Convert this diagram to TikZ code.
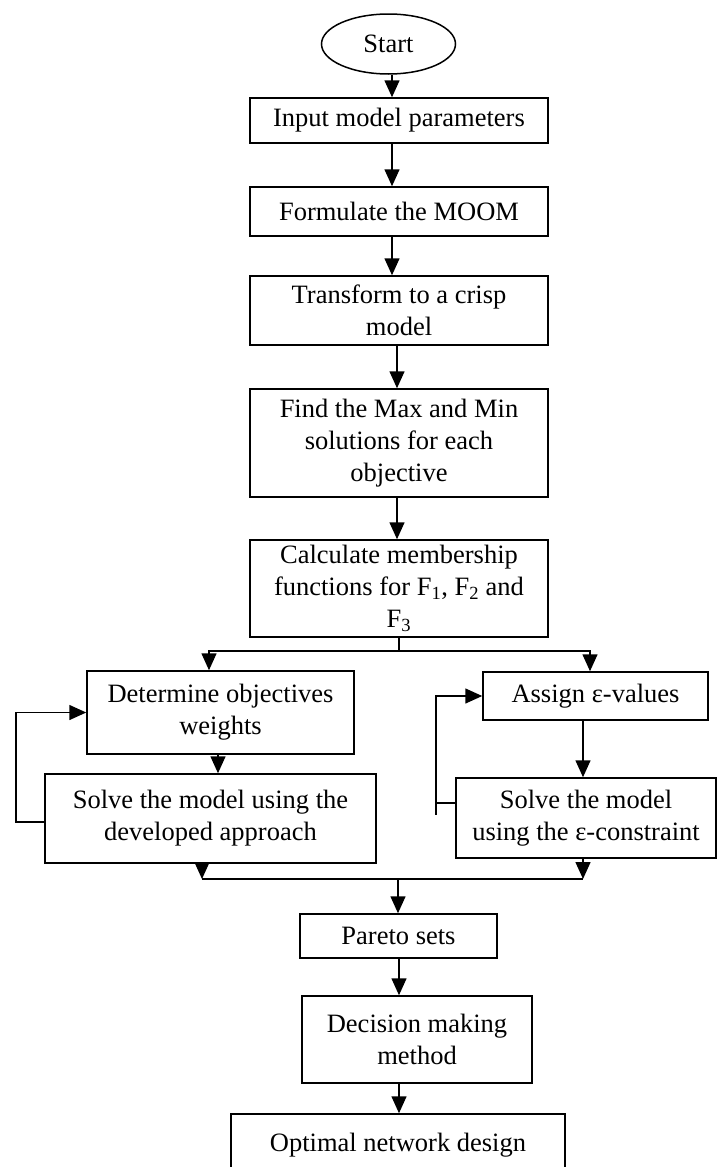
\documentclass[tikz,border=0pt]{standalone}
\usepackage{fontspec}
\setmainfont{Liberation Serif}
\usetikzlibrary{arrows.meta,shapes.geometric}
\begin{document}
\begin{tikzpicture}[x=1pt,y=-1pt,
  txt/.style={font=\fontsize{26.5}{32}\selectfont},
  box/.style={txt,draw,line width=1.5pt,inner sep=0pt,align=center},
  oval/.style={txt,draw,ellipse,line width=1.5pt,inner sep=0pt},
  link/.style={line width=1.5pt},
  arr/.style={line width=1.5pt,-{Triangle[width=15pt,length=17pt]}}]
\useasboundingbox (0,0) rectangle (721,1167);
\clip (0,0) rectangle (721,1167);

% main column
\node[oval,minimum width=134pt,minimum height=60pt] (start) at (388.5,44) {Start};
\node[box,minimum width=298pt,minimum height=45pt] (input) at (399,120.5) {Input model parameters};
\node[box,minimum width=298pt,minimum height=49pt] (formulate) at (399,211.5) {Formulate the MOOM};
\node[box,minimum width=298pt,minimum height=69pt] (transform) at (399,310.5) {Transform to a crisp\\model};
\node[box,minimum width=298pt,minimum height=108pt] (find) at (399,443) {Find the Max and Min\\solutions for each\\objective};
\node[box,minimum width=298pt,minimum height=97pt] (calc) at (399,588.5) {Calculate membership\\functions for F\textsubscript{1}, F\textsubscript{2} and\\F\textsubscript{3}};

% two branches
\node[box,minimum width=267pt,minimum height=83pt] (det) at (220.5,712.5) {Determine objectives\\weights};
\node[box,minimum width=331pt,minimum height=89pt] (solveL) at (210.5,818.5) {Solve the model using the\\developed approach};
\node[box,minimum width=225pt,minimum height=48pt] (assign) at (595.5,696) {Assign ε-values};
\node[box,minimum width=260pt,minimum height=80pt] (solveR) at (586,818) {Solve the model\\using the ε-constraint};

% lower column
\node[box,minimum width=197pt,minimum height=44pt] (pareto) at (398.5,936) {Pareto sets};
\node[box,minimum width=230pt,minimum height=87pt] (decision) at (417,1039.5) {Decision making\\method};
\node[box,minimum width=334pt,minimum height=62pt] (optimal) at (398,1145) {Optimal network design};

% routing points
\coordinate (topx) at (392,0);
\coordinate (midx) at (397,0);
\coordinate (split) at (399,651);
\coordinate (splitL) at (209,651);
\coordinate (splitR) at (590,651);
\coordinate (fbL) at (16,822);
\coordinate (fbR) at (436,803);
\coordinate (mergeL) at (202,879);
\coordinate (mergeR) at (583,879);
\coordinate (merge) at (398,879);

% sequential arrows
\draw[arr] (start.south -| topx) -- (input.north -| topx);
\draw[arr] (input.south -| topx) -- (formulate.north -| topx);
\draw[arr] (formulate.south -| topx) -- (transform.north -| topx);
\draw[arr] (transform.south -| midx) -- (find.north -| midx);
\draw[arr] (find.south -| midx) -- (calc.north -| midx);

% split into the two approaches
\draw[link] (calc.south -| split) -- (split);
\draw[arr] (split) -| (det.north -| splitL);
\draw[arr] (split) -| (assign.north -| splitR);

% left branch with feedback loop
\draw[arr] (det.south -| 218,0) -- (solveL.north -| 218,0);
\draw[arr] (solveL.west |- fbL) -- (fbL) |- (det.west);

% right branch with feedback loop
\draw[arr] (assign.south -| 583,0) -- (solveR.north -| 583,0);
\draw[arr] (solveR.west |- fbR) -- (fbR) |- (assign.west);
\draw[link] (fbR) -- ++(0,12);

% merge of both branches
\draw[arr] (solveL.south -| mergeL) -- (mergeL);
\draw[arr] (solveR.south -| mergeR) -- (mergeR);
\draw[link] (mergeL) -- (mergeR);
\draw[arr] (merge) -- (pareto.north -| merge);

% final steps
\draw[arr] (pareto.south -| 399,0) -- (decision.north -| 399,0);
\draw[arr] (decision.south -| 399,0) -- (optimal.north -| 399,0);
\end{tikzpicture}
\end{document}
